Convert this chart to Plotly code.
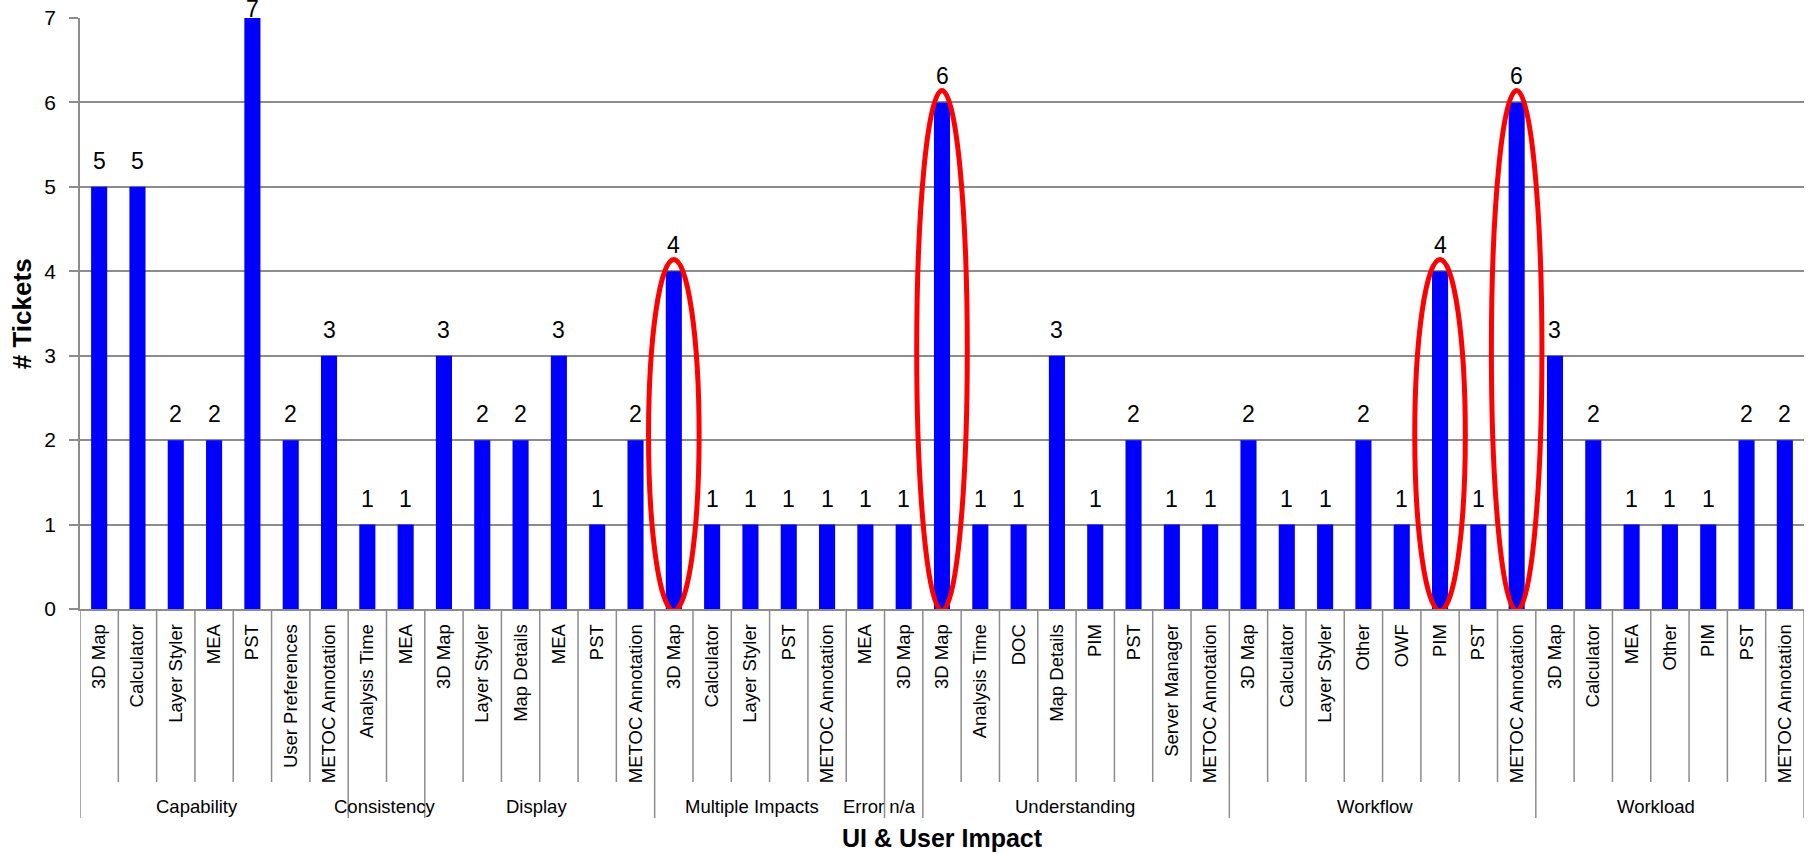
import plotly.graph_objects as go

# Ticket counts by impact type (outer level) and UI component (inner level)
groups = ["Capability", "Consistency", "Display", "Multiple Impacts",
          "Error n/a", "Understanding", "Workflow", "Workload"]

capability_items = ["3D Map", "Calculator", "Layer Styler", "MEA", "PST",
                    "User Preferences", "METOC Annotation"]
capability_counts = [5, 5, 2, 2, 7, 2, 3]

consistency_items = ["Analysis Time", "MEA"]
consistency_counts = [1, 1]

display_items = ["3D Map", "Layer Styler", "Map Details", "MEA", "PST",
                 "METOC Annotation"]
display_counts = [3, 2, 2, 3, 1, 2]

multiple_items = ["3D Map", "Calculator", "Layer Styler", "PST",
                  "METOC Annotation", "MEA"]
multiple_counts = [4, 1, 1, 1, 1, 1]

error_items = ["3D Map"]
error_counts = [1]

understanding_items = ["3D Map", "Analysis Time", "DOC", "Map Details", "PIM",
                       "PST", "Server Manager", "METOC Annotation"]
understanding_counts = [6, 1, 1, 3, 1, 2, 1, 1]

workflow_items = ["3D Map", "Calculator", "Layer Styler", "Other", "OWF",
                  "PIM", "PST", "METOC Annotation"]
workflow_counts = [2, 1, 1, 2, 1, 4, 1, 6]

workload_items = ["3D Map", "Calculator", "MEA", "Other", "PIM", "PST",
                  "METOC Annotation"]
workload_counts = [3, 2, 1, 1, 1, 2, 2]

# Bars circled in red
highlighted = [("Multiple Impacts", "3D Map"), ("Understanding", "3D Map"),
               ("Workflow", "PIM"), ("Workflow", "METOC Annotation")]

y_ticks = [0, 1, 2, 3, 4, 5, 6, 7]

all_items = [capability_items, consistency_items, display_items, multiple_items,
             error_items, understanding_items, workflow_items, workload_items]
all_counts = [capability_counts, consistency_counts, display_counts,
              multiple_counts, error_counts, understanding_counts,
              workflow_counts, workload_counts]

# ---- styling ----
FONT = "Liberation Sans, Arial, sans-serif"
GRID = "#8c8c8c"
BLUE = "#0000ff"
RED = "#ff0000"
Y_MAX = 7
# horizontal nudge (px) of each group caption
group_label_shift = {"Capability": -17, "Consistency": -1, "Display": -3,
                     "Multiple Impacts": -18, "Error n/a": -24,
                     "Understanding": -1, "Workflow": -8, "Workload": -14}

# flatten the two-level categories onto a numeric axis
labels, values, owners = [], [], []
group_spans = []
for g, items, counts in zip(groups, all_items, all_counts):
    start = len(labels)
    labels.extend(items)
    values.extend(counts)
    owners.extend([g] * len(items))
    group_spans.append((g, start, len(labels) - 1))
xs = list(range(len(labels)))

fig = go.Figure()
fig.add_trace(go.Bar(x=xs, y=values, marker=dict(color=BLUE, line_width=0),
                     hoverinfo="skip"))

shapes = []
inner_bottom = -0.2927
outer_bottom = -0.3536
boundaries = {s for _, s, _ in group_spans} | {len(labels)}
for i in range(len(labels) + 1):
    shapes.append(dict(type="line", xref="x", yref="paper",
                       x0=i - 0.5, x1=i - 0.5, y0=0,
                       y1=outer_bottom if i in boundaries else inner_bottom,
                       line=dict(color=GRID, width=1.5), layer="above"))

# red ellipses around highlighted bars
for g, item in highlighted:
    idx = next(k for k in xs if owners[k] == g and labels[k] == item)
    v = values[idx]
    shapes.append(dict(type="circle", xref="x", yref="y",
                       x0=idx - 0.66, x1=idx + 0.66,
                       y0=-0.02, y1=v + 0.14,
                       line=dict(color=RED, width=5), layer="above"))

annotations = []
# value labels above each bar
for x, v in zip(xs, values):
    annotations.append(dict(x=x, y=v, xref="x", yref="y", text=str(v),
                            showarrow=False, yanchor="bottom",
                            yshift=-6 if v >= Y_MAX else 11,
                            font=dict(family=FONT, size=23, color="black")))
# group captions
for g, s, e in group_spans:
    annotations.append(dict(x=(s + e) / 2, y=-0.334, xref="x", yref="paper",
                            text=g, showarrow=False, yanchor="middle",
                            xshift=group_label_shift[g],
                            font=dict(family=FONT, size=18.5, color="black")))
# axis titles
annotations.append(dict(x=0.5, y=-0.388, xref="paper", yref="paper",
                        text="<b>UI & User Impact</b>", showarrow=False,
                        yanchor="middle",
                        font=dict(family=FONT, size=25, color="black")))
annotations.append(dict(x=22, y=0.5, xref="paper", yref="paper",
                        xanchor="center", text="<b># Tickets</b>",
                        showarrow=False, textangle=-90,
                        font=dict(family=FONT, size=26, color="black")))
annotations[-1]["xref"] = "paper"
annotations[-1]["x"] = -0.0338

fig.update_layout(
    width=1808, height=854,
    margin=dict(l=80, r=4, t=18, b=245),
    plot_bgcolor="white", paper_bgcolor="white",
    bargap=0.58, showlegend=False,
    shapes=shapes, annotations=annotations,
    font=dict(family=FONT, color="black"),
    xaxis=dict(range=[-0.5, len(labels) - 0.5], tickmode="array",
               tickvals=xs, ticktext=labels, tickangle=-90,
               ticks="", showgrid=False, zeroline=False,
               showline=True, linecolor=GRID, linewidth=1.5,
               ticklabelstandoff=6,
               tickfont=dict(family=FONT, size=18.5, color="black")),
    yaxis=dict(range=[0, Y_MAX], tickmode="array", tickvals=y_ticks,
               showgrid=True, gridcolor=GRID, gridwidth=1.5,
               zeroline=False, showline=True, linecolor=GRID, linewidth=1.5,
               ticks="outside", ticklen=9, tickcolor=GRID, tickwidth=1.5,
               ticklabelstandoff=9,
               tickfont=dict(family=FONT, size=21, color="black")),
)

fig.write_html("out.html")
